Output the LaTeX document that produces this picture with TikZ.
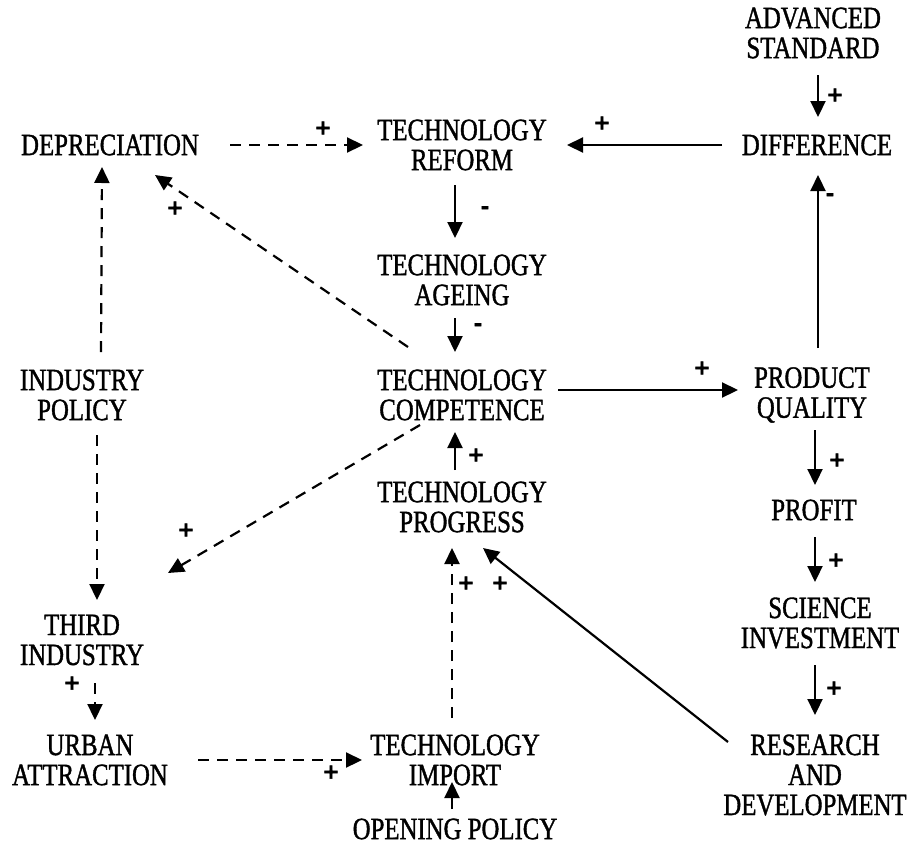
\documentclass[tikz,border=0pt]{standalone}
\usepackage{fontspec}
\usetikzlibrary{arrows.meta}
\newfontfamily\lblfont{Liberation Serif}[FakeStretch=0.8,FakeBold=1.2]
\newfontfamily\sgnfont{DejaVu Sans}[FakeBold=1.5]
\begin{document}
\begin{tikzpicture}[x=1pt,y=-1pt,
  lbl/.style={font=\lblfont\fontsize{31}{30}\selectfont, align=center, inner sep=0pt},
  sgn/.style={font=\sgnfont\bfseries\fontsize{21}{21}\selectfont, inner sep=0pt},
  link/.style={line width=2.2pt, -{Triangle[length=16pt,width=15pt]}},
  dlink/.style={link, dash pattern=on 11pt off 8pt},
]
\useasboundingbox (0,0) rectangle (910,846);

% variables
\node[lbl] (adv)      at (813,33)  {ADVANCED\\STANDARD};
\node[lbl] (diff)     at (817,145) {DIFFERENCE};
\node[lbl] (dep)      at (110,145) {DEPRECIATION};
\node[lbl] (reform)   at (462,145) {TECHNOLOGY\\REFORM};
\node[lbl] (ageing)   at (462,280) {TECHNOLOGY\\AGEING};
\node[lbl] (comp)     at (462,395) {TECHNOLOGY\\COMPETENCE};
\node[lbl] (pq)       at (812,395) {PRODUCT\\QUALITY};
\node[lbl] (indpol)   at (82,395)  {INDUSTRY\\POLICY};
\node[lbl] (progress) at (462,507) {TECHNOLOGY\\PROGRESS};
\node[lbl] (profit)   at (814,510) {PROFIT};
\node[lbl] (third)    at (82,640)  {THIRD\\INDUSTRY};
\node[lbl] (sci)      at (820,623) {SCIENCE\\INVESTMENT};
\node[lbl] (urban)    at (90,760)  {URBAN\\ATTRACTION};
\node[lbl] (import)   at (455,760) {TECHNOLOGY\\IMPORT};
\node[lbl] (rd)       at (815,775) {RESEARCH\\AND\\DEVELOPMENT};
\node[lbl] (opening)  at (455,829) {OPENING POLICY};

% causal links
\draw[dlink] ([shift={(120,0)}]dep.center) -- ([shift={(-99,0)}]reform.center);
\draw[link]  ([shift={(-95,0)}]diff.center) -- ([shift={(105,0)}]reform.center);
\draw[link]  ([shift={(5,42)}]adv.center) -- ([shift={(1,-28)}]diff.center);
\draw[link]  ([shift={(-7,40)}]reform.center) -- ([shift={(-7,-42)}]ageing.center);
\draw[link]  ([shift={(-7,38)}]ageing.center) -- ([shift={(-7,-43)}]comp.center);
\draw[link]  ([shift={(6,-47)}]pq.center) -- ([shift={(1,30)}]diff.center);
\draw[dlink] ([shift={(-54,-48)}]comp.center) -- ([shift={(45,30)}]dep.center);
\draw[dlink] ([shift={(19,-43)}]indpol.center) -- ([shift={(-8,22)}]dep.center);
\draw[dlink] ([shift={(15,40)}]indpol.center) -- ([shift={(15,-40)}]third.center);
\draw[link]  ([shift={(96,-5)}]comp.center) -- ([shift={(-74,-5)}]pq.center);
\draw[dlink] ([shift={(-42,30)}]comp.center) -- ([shift={(86,-67)}]third.center);
\draw[link]  ([shift={(-7,-37)}]progress.center) -- ([shift={(-7,37)}]comp.center);
\draw[link]  ([shift={(3,35)}]pq.center) -- ([shift={(1,-25)}]profit.center);
\draw[link]  ([shift={(1,27)}]profit.center) -- ([shift={(-5,-41)}]sci.center);
\draw[link]  ([shift={(-5,42)}]sci.center) -- ([shift={(0,-60)}]rd.center);
\draw[link]  ([shift={(-87,-33)}]rd.center) -- ([shift={(21,41)}]progress.center);
\draw[dlink] ([shift={(-3,-42)}]import.center) -- ([shift={(-10,41)}]progress.center);
\draw[dlink] ([shift={(13,43)}]third.center) -- ([shift={(5,-40)}]urban.center);
\draw[dlink] ([shift={(108,0)}]urban.center) -- ([shift={(-93,0)}]import.center);
\draw[dlink] ([shift={(-3,-20)}]opening.center) -- ([shift={(-3,22)}]import.center);

% polarity signs
\node[sgn] (s1)  at (323,128) {+};
\node[sgn] (s2)  at (602,123) {+};
\node[sgn] (s3)  at (835,95)  {+};
\node[sgn] (s4)  at (485,210) {-};
\node[sgn] (s5)  at (478,327) {-};
\node[sgn] (s6)  at (830,197) {-};
\node[sgn] (s7)  at (175,208) {+};
\node[sgn] (s8)  at (702,368) {+};
\node[sgn] (s9)  at (186,530) {+};
\node[sgn] (s10) at (476,455) {+};
\node[sgn] (s11) at (837,460) {+};
\node[sgn] (s12) at (836,560) {+};
\node[sgn] (s13) at (834,688) {+};
\node[sgn] (s14) at (466,583) {+};
\node[sgn] (s15) at (500,583) {+};
\node[sgn] (s16) at (72,683)  {+};
\node[sgn] (s17) at (331,772) {+};
\end{tikzpicture}
\end{document}
